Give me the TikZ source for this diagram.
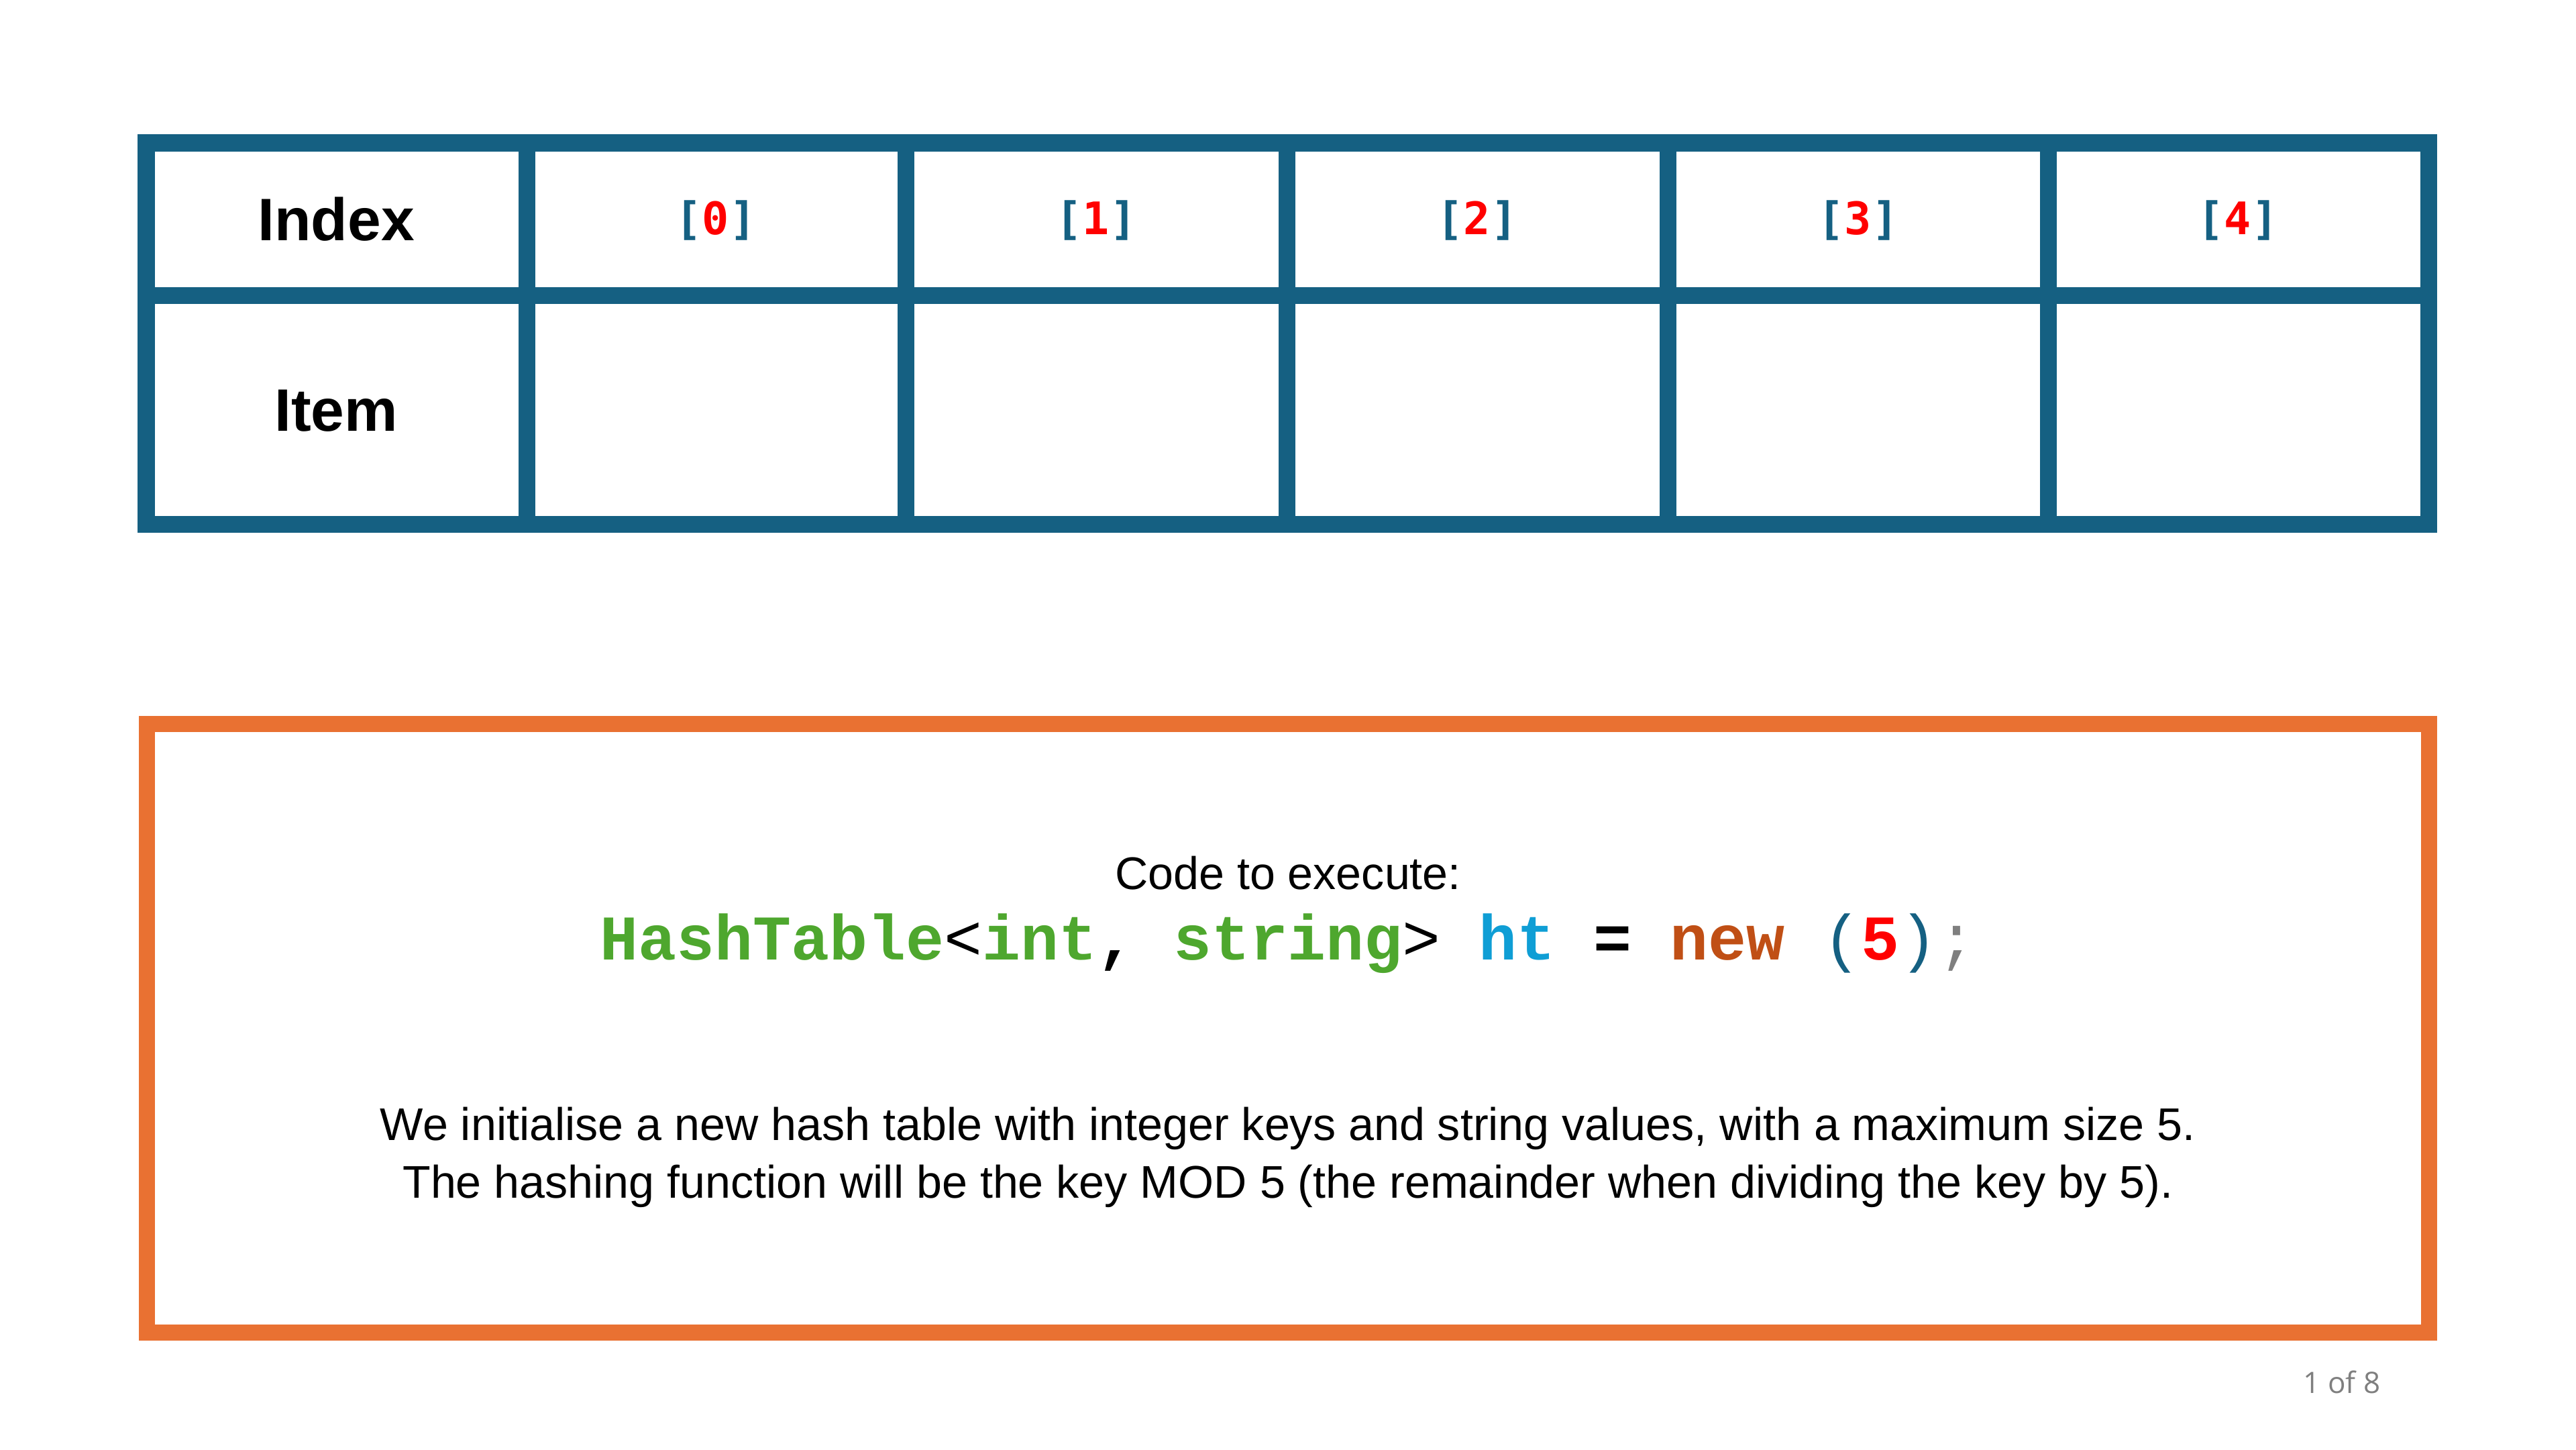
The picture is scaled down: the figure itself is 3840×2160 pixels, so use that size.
\documentclass[tikz,border=0pt]{standalone}
\usepackage{fontspec}
\setmainfont{Liberation Sans}
\newfontfamily\codefont{Liberation Mono}
\newfontfamily\indexfont{DejaVu Sans Mono}
\newfontfamily\pagefont{Open Sans}
\definecolor{tableblue}{HTML}{156082}
\definecolor{boxorange}{HTML}{E97132}
\definecolor{codegreen}{HTML}{4EA72E}
\definecolor{codecyan}{HTML}{0F9ED5}
\definecolor{codebrown}{HTML}{C04F15}
\definecolor{codegray}{HTML}{7F7F7F}
\tikzset{
  grid line/.style={tableblue, line width=0.25cm},
  head/.style={inner sep=0pt, anchor=base, font=\fontsize{25.4}{30}\selectfont\bfseries},
  idx/.style={inner sep=0pt, anchor=base, font=\indexfont\fontsize{19}{23}\selectfont\bfseries},
  body/.style={inner sep=0pt, anchor=base, font=\fontsize{19.4}{24}\selectfont}
}
\begin{document}
\begin{tikzpicture}[x=0.01cm,y=-0.01cm]
\useasboundingbox (0,0) rectangle (3840,2160);
\coordinate (tabletl) at (218,213);
\coordinate (tablebr) at (3620,781);
% Draw table
\draw[grid line] (tabletl) rectangle (tablebr);
\draw[grid line] (218,440) -- (3620,440);
\foreach \x in {785,1350,1918,2486,3053}
  \draw[grid line] (\x,213) -- (\x,781);
% Row headers
\node[head] (index) at (501,358) {Index};
\node[head] (item) at (501,642) {Item};
% Index labels
\foreach \i/\x in {0/1067,1/1634,2/2202,3/2770,4/3336}
  \node[idx] (idx\i) at (\x,349) {\textcolor{tableblue}{[}\textcolor{red}{\i}\textcolor{tableblue}{]}};
% Draw code box
\draw[boxorange, line width=0.24cm] (219,1079) rectangle (3621,1986);
\node[body] (codehead) at (1920,1325) {Code to execute:};
\node[inner sep=0pt, anchor=base, font=\codefont\fontsize{27}{32}\selectfont\bfseries] (code) at (1920,1430)
  {\textcolor{codegreen}{HashTable}{\mdseries<}\textcolor{codegreen}{int}, \textcolor{codegreen}{string}{\mdseries>} \textcolor{codecyan}{ht} = \textcolor{codebrown}{new} {\mdseries\textcolor{tableblue}{(}}\textcolor{red}{5}{\mdseries\textcolor{tableblue}{)}\textcolor{codegray}{;}}};
\node[body] (para1) at (1920,1699) {We initialise a new hash table with integer keys and string values, with a maximum size 5.};
\node[body] (para2) at (1920,1785) {The hashing function will be the key MOD 5 (the remainder when dividing the key by 5).};
% Page number
\node[inner sep=0pt, anchor=base, text=codegray, font=\pagefont\fontsize{12.5}{15}\selectfont] (pagenum) at (3491,2076) {1 of 8};
\end{tikzpicture}
\end{document}
